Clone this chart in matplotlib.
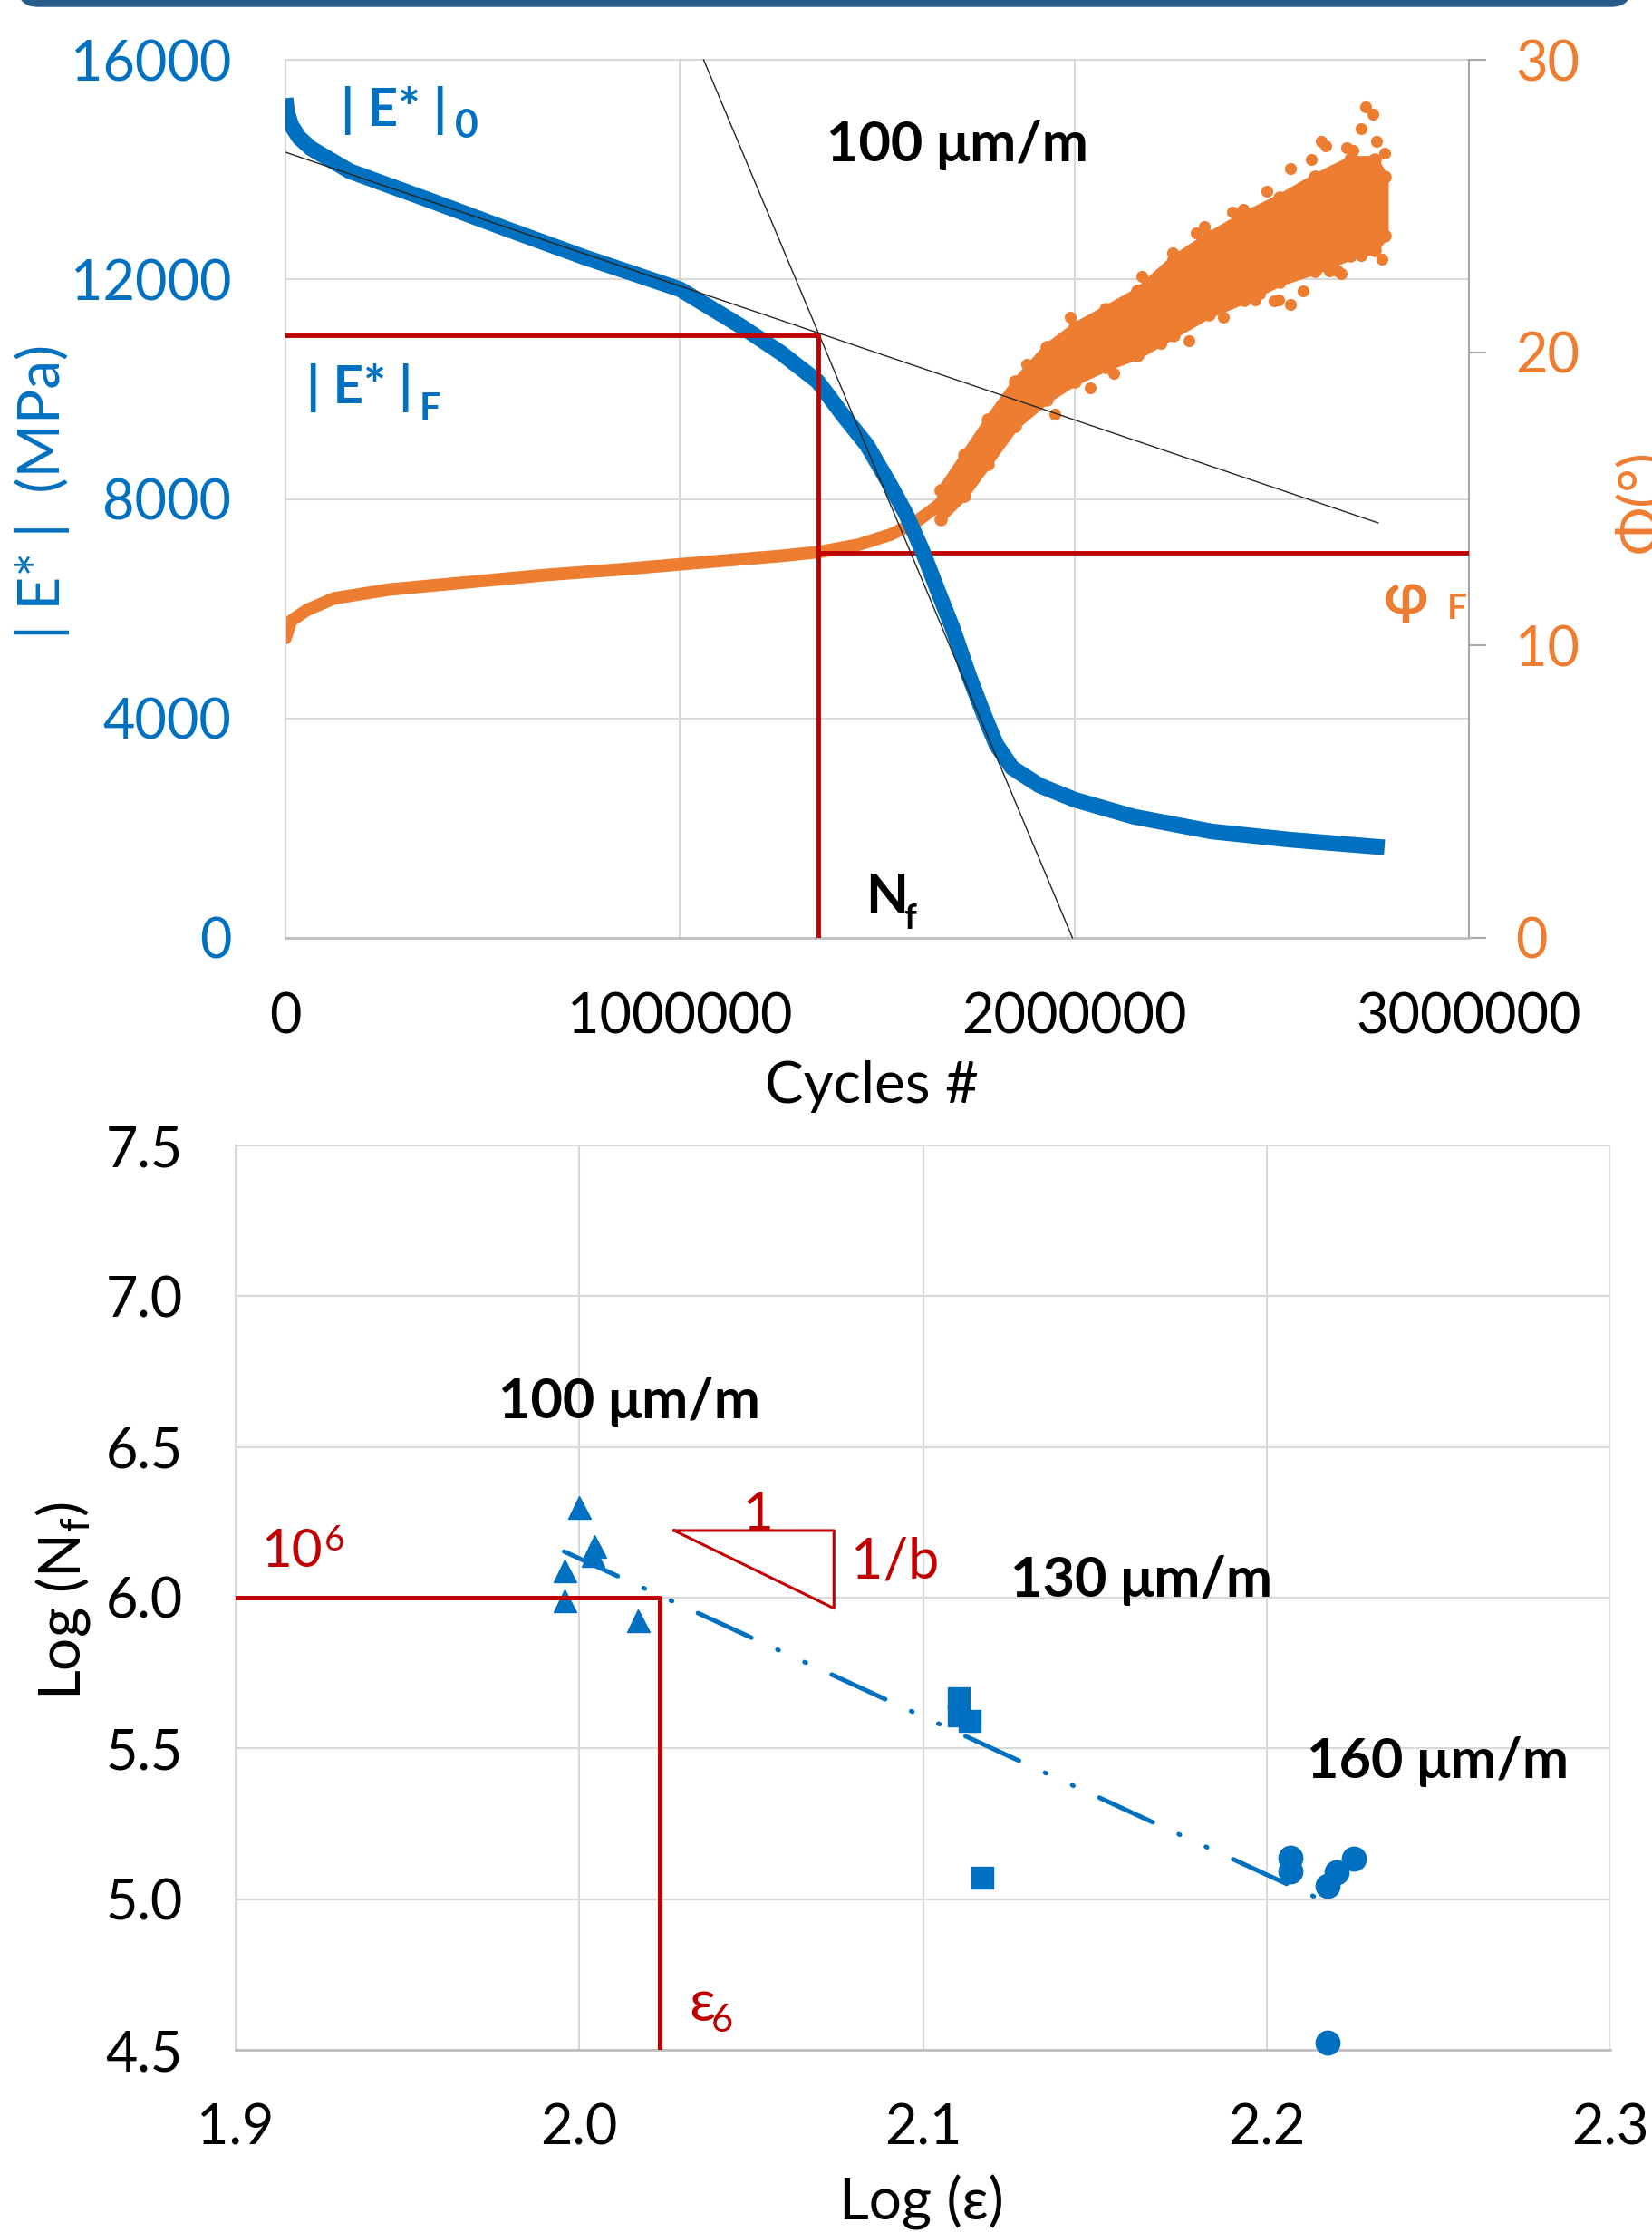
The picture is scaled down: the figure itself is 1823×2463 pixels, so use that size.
import matplotlib
matplotlib.use('Agg')
import matplotlib.pyplot as plt
from matplotlib.transforms import blended_transform_factory
from matplotlib.patches import FancyBboxPatch

plt.rcParams['font.family'] = ['Lato', 'DejaVu Sans']

# colours
blue = '#0070C0'
orange = '#ED7D31'
red = '#C00000'
grid_c = '#D9D9D9'
axis_c = '#BFBFBF'

# ---------------- top chart data ----------------
cycles_E = [0, 4000, 15000, 35000, 64000, 163000, 362000, 560000, 759000, 1000000,
            1156000, 1256000, 1349000, 1415000, 1474000, 1534000, 1574000, 1613000,
            1653000, 1693000, 1733000, 1772000, 1802000, 1842000, 1911000, 2000000,
            2150000, 2348000, 2547000, 2786000]
modulus = [15300, 15050, 14800, 14580, 14390, 13970, 13450, 12920, 12400, 11820,
           11140, 10660, 10140, 9510, 8980, 8240, 7710, 7080,
           6340, 5610, 4770, 4040, 3520, 3100, 2780, 2520,
           2210, 1940, 1790, 1650]

cycles_phi = [0, 14000, 54000, 123000, 262000, 461000, 660000, 858000, 1057000,
              1256000, 1355000, 1454000, 1534000, 1594000, 1653000, 1700000]
phase = [10.24, 10.83, 11.2, 11.6, 11.9, 12.15, 12.4, 12.6, 12.83,
         13.05, 13.19, 13.44, 13.78, 14.17, 14.76, 15.4]

# scattered part of the phase angle: band limits
cycles_band = [1660000, 1720000, 1780000, 1850000, 1930000, 2000000, 2080000, 2160000,
               2250000, 2340000, 2430000, 2520000, 2610000, 2700000, 2760000, 2786000]
phase_upper = [15.3, 16.5, 17.7, 19.0, 20.2, 20.9, 21.5, 22.1,
               23.2, 24.0, 24.7, 25.3, 26.0, 26.6, 26.6, 26.0]
phase_lower = [14.3, 15.1, 16.2, 17.5, 18.4, 19.0, 19.5, 19.9,
               20.6, 21.3, 21.8, 22.4, 22.8, 23.3, 23.5, 24.0]
# stray points of the phase angle cloud
cycles_out = [2756000, 2726000, 2637000, 2706000, 2766000, 2547000, 2487000, 2428000,
              2309000, 2249000, 2547000, 2507000, 2458000, 2378000, 2219000, 2100000,
              2040000, 2647000, 2726000, 2676000, 2756000, 1950000, 2170000, 2600000,
              2786000, 2739000, 2625000, 2517000, 2668000, 1880000, 1990000, 2290000,
              2400000, 2580000, 2690000, 2780000, 2150000, 2330000, 2470000]
phase_out = [28.15, 27.66, 27.07, 26.9, 27.2, 26.3, 25.5, 24.9,
             24.1, 23.4, 21.65, 21.75, 21.8, 21.2, 20.3, 19.3,
             18.8, 22.8, 23.3, 22.7, 23.6, 17.9, 22.6, 26.6,
             26.8, 28.4, 27.2, 21.8, 22.8, 19.6, 21.2, 20.4,
             24.8, 22.1, 27.0, 23.2, 20.0, 24.3, 22.0]

# tangent lines
tan1_x = [0, 2770000]
tan1_y = [14316, 7562]
tan2_x = [1060000, 1995000]
tan2_y = [16000, 0]

Nf = 1350000
E_F = 10980
phi_F = 13.15

# ---------------- bottom chart data ----------------
tri_x = [2.000, 2.0045, 2.004, 1.9958, 1.9958, 2.017]
tri_y = [6.30, 6.17, 6.14, 6.09, 5.99, 5.925]
sq_x = [2.1105, 2.1105, 2.1136, 2.1172]
sq_y = [5.666, 5.61, 5.59, 5.07]
circ_x = [2.2069, 2.2069, 2.2203, 2.2177, 2.2255, 2.2177]
circ_y = [5.138, 5.093, 5.088, 5.043, 5.133, 4.523]

trend_x = [1.9956, 2.2191]
trend_y = [6.153, 4.981]

eps6 = 2.0235
logN6 = 6.0
slope_tri_x = [2.0276, 2.0741, 2.0741, 2.0276]
slope_tri_y = [6.2226, 6.2226, 5.9645, 6.2226]

fig = plt.figure(figsize=(18.24, 24.63), dpi=100)

# banner on top
fig.patches.append(FancyBboxPatch((20 / 1824, 1 - 7 / 2463), 1780 / 1824, 40 / 2463,
                                  boxstyle='round,pad=0,rounding_size=0.012',
                                  mutation_aspect=1824 / 2463,
                                  transform=fig.transFigure, color='#285A8A'))

##########################Top chart################################
ax = fig.add_axes([315 / 1824, 1 - 1035 / 2463, 1306 / 1824, 969 / 2463])
ax2 = ax.twinx()
ax.set_zorder(ax2.get_zorder() + 1)
ax.patch.set_visible(False)

ax.set_xlim(0, 3000000)
ax.set_ylim(0, 16000)
ax2.set_ylim(0, 30)

# grid lines drawn in the lower axes so the curves sit over them
for v in [1000000, 2000000]:
    ax2.axvline(v, color=grid_c, lw=1.5, zorder=0)
tr = blended_transform_factory(ax2.transAxes, ax.transData)
for e in [4000, 8000, 12000, 16000]:
    ax2.plot([0, 1], [e, e], color=grid_c, lw=1.5, transform=tr, zorder=0, clip_on=False)

# phase angle
ax2.plot(cycles_phi, phase, color=orange, lw=10, solid_capstyle='round', zorder=2)
ax2.fill_between(cycles_band, phase_lower, phase_upper, color=orange, lw=6,
                 edgecolor=orange, zorder=2)
ax2.scatter(cycles_band, phase_upper, s=110, color=orange, zorder=2, lw=0)
ax2.scatter(cycles_band, phase_lower, s=110, color=orange, zorder=2, lw=0)
ax2.scatter(cycles_out, phase_out, s=90, color=orange, zorder=2, lw=0)
ax2.plot([Nf, 3000000], [phi_F, phi_F], color=red, lw=3.5, zorder=3)

# modulus
ax.plot(cycles_E, modulus, color=blue, lw=12.5, solid_capstyle='butt',
        solid_joinstyle='round', zorder=2)
ax.plot(tan1_x, tan1_y, color='#262626', lw=1, zorder=3)
ax.plot(tan2_x, tan2_y, color='#262626', lw=1, zorder=3, clip_on=False)
ax.plot([0, Nf, Nf], [E_F, E_F, 0], color=red, lw=3.5, zorder=4)

for s in ['top', 'right', 'left', 'bottom']:
    ax.spines[s].set_visible(False)
ax2.spines['top'].set_visible(False)
ax2.spines['left'].set_color(grid_c)
ax2.spines['left'].set_linewidth(1.5)
ax2.spines['bottom'].set_color(axis_c)
ax2.spines['bottom'].set_linewidth(2)
ax2.spines['right'].set_color('#A6A6A6')
ax2.spines['right'].set_linewidth(1.5)

ax.set_yticks([0, 4000, 8000, 12000, 16000])
ax.set_yticklabels(['0', '4000', '8000', '12000', '16000'])
ax.set_xticks([0, 1000000, 2000000, 3000000])
ax.set_xticklabels(['0', '1000000', '2000000', '3000000'])
ax.tick_params(axis='y', length=0, pad=43, labelsize=44, labelcolor=blue)
ax.tick_params(axis='x', length=0, pad=43, labelsize=44, labelcolor='black')
ax2.set_yticks([0, 10, 20, 30])
ax2.tick_params(axis='y', length=14, width=1.5, color='#A6A6A6', pad=23,
                labelsize=44, labelcolor=orange)

# annotations
ax.text(140000, 15075, '| E* |', color=blue, fontsize=42, fontweight='bold', va='center')
ax.text(429000, 14795, '0', color=blue, fontsize=32, fontweight='bold', va='center')
ax.text(53000, 10023, '| E* |', color=blue, fontsize=42, fontweight='bold', va='center')
ax.text(340000, 9626, 'F', color=blue, fontsize=30, fontweight='bold', va='center')
ax.text(1704000, 14448, '100 μm/m', color='black', fontsize=44, fontweight='bold',
        ha='center', va='center')
ax.text(1470000, 743, 'N', color='black', fontsize=44, fontweight='bold', va='center')
ax.text(1568000, 363, 'f', color='black', fontsize=28, fontweight='bold', va='center')
ax2.text(2785000, 11.61, 'φ', color=orange, fontsize=46, fontweight='bold', va='center')
ax2.text(2944000, 11.24, 'F', color=orange, fontsize=28, fontweight='bold', va='center')

fig.text(47 / 1824, 1 - 542 / 2463, '| E* |  (MPa)', color=blue, fontsize=46,
         rotation=90, ha='center', va='center')
fig.text(1812 / 1824, 1 - 553 / 2463, 'Φ(°)', color=orange, fontsize=46,
         rotation=90, ha='center', va='center')
fig.text(962 / 1824, 1 - 1199 / 2463, 'Cycles #', color='black', fontsize=46,
         ha='center', va='center')

##########################Bottom chart################################
bx = fig.add_axes([260 / 1824, 1 - 2262 / 2463, 1517 / 1824, 998 / 2463])
bx.set_xlim(1.9, 2.3)
bx.set_ylim(4.5, 7.5)
bx.set_axisbelow(True)
bx.grid(True, color=grid_c, lw=1.5)

bx.plot(tri_x, tri_y, '^', ms=18, color=blue, zorder=3)
bx.plot(sq_x, sq_y, 's', ms=17, color=blue, zorder=3)
bx.plot(circ_x, circ_y, 'o', ms=19, color=blue, zorder=3, clip_on=False)
bx.plot(trend_x, trend_y, color=blue, lw=3.6, dash_capstyle='round',
        linestyle=(0, (13, 6.3, 0.3, 6.3, 0.3, 6.3)), zorder=4)

bx.plot([1.9, eps6, eps6], [logN6, logN6, 4.5], color=red, lw=3.6, zorder=5)
bx.plot(slope_tri_x, slope_tri_y, color=red, lw=2.2, zorder=5)

for s in ['top', 'right']:
    bx.spines[s].set_visible(False)
bx.spines['left'].set_color(grid_c)
bx.spines['left'].set_linewidth(1.5)
bx.spines['bottom'].set_color(axis_c)
bx.spines['bottom'].set_linewidth(2)

bx.set_xticks([1.9, 2.0, 2.1, 2.2, 2.3])
bx.set_xticklabels(['1.9', '2.0', '2.1', '2.2', '2.3'])
bx.set_yticks([4.5, 5.0, 5.5, 6.0, 6.5, 7.0, 7.5])
bx.set_yticklabels(['4.5', '5.0', '5.5', '6.0', '6.5', '7.0', '7.5'])
bx.tick_params(length=0, pad=42, labelsize=44)

bx.text(2.0146, 6.649, '100 μm/m', fontsize=44, fontweight='bold', ha='center', va='center')
bx.text(2.1635, 6.057, '130 μm/m', fontsize=44, fontweight='bold', ha='center', va='center')
bx.text(2.2497, 5.456, '160 μm/m', fontsize=44, fontweight='bold', ha='center', va='center')

bx.text(1.9074, 6.153, '10', color=red, fontsize=42, va='center')
bx.text(1.9258, 6.190, '6', color=red, fontsize=28, va='center')
bx.text(2.052, 6.225, '1', color=red, fontsize=42, ha='center', va='baseline')
bx.text(2.079, 6.117, '1/b', color=red, fontsize=44, va='center')
bx.text(2.0318, 4.651, 'ε', color=red, fontsize=46, va='center')
bx.text(2.0383, 4.596, '6', color=red, fontsize=30, va='center')

fig.text(70 / 1824, 1 - 1767 / 2463, 'Log (N$_\\mathregular{f}$)', fontsize=46,
         rotation=90, ha='center', va='center')
fig.text(1017 / 1824, 1 - 2430 / 2463, 'Log (ε)', fontsize=46,
         ha='center', va='center')

fig.savefig('out.png', dpi=100)
